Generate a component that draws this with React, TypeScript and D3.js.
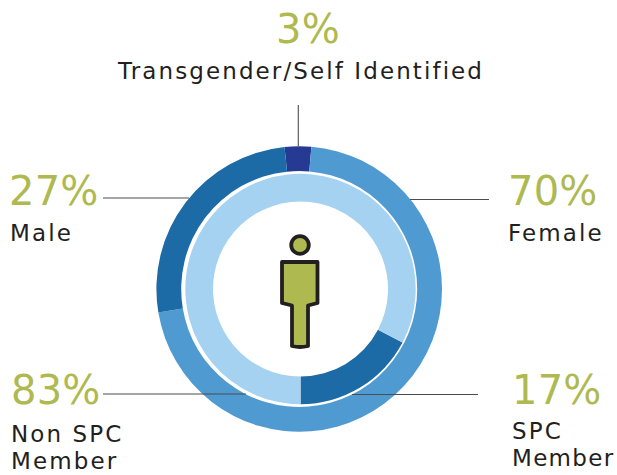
import React from "react";
import * as d3 from "d3";

const outerNames = ["Transgender/Self Identified", "Female", "Male"];
const outerShares = [3, 71, 26];
const innerNames = ["SPC Member", "Non SPC Member"];
const innerShares = [17.3, 82.7];
const outerColors = ["#263a93", "#4f9ad0", "#1c6aa6"];
const innerColors = ["#1c6aa6", "#a6d2f1"];
const percentLabels = ["3%", "27%", "70%", "83%", "17%"];

const GREEN = "#aeb94f";
const INK = "#231f20";
const LINE = "#4d4d4f";
const FONT = "'DejaVu Sans', Verdana, sans-serif";

const rad = (d: number) => (d * Math.PI) / 180;

export default function App() {
  const outerPie = d3.pie<number>().sort(null).startAngle(rad(-5.9)).endAngle(rad(354.1))(outerShares);
  const innerPie = d3.pie<number>().sort(null).startAngle(rad(117.7)).endAngle(rad(477.7))(innerShares);
  const outerArc = d3.arc<d3.PieArcDatum<number>>().innerRadius(118).outerRadius(142.8);
  const innerArc = d3.arc<d3.PieArcDatum<number>>().innerRadius(87.5).outerRadius(115.2);
  const pct = { fontFamily: FONT, fontSize: 40, fill: GREEN, letterSpacing: 0.2 } as const;
  const lab = { fontFamily: FONT, fontSize: 23, fill: INK, letterSpacing: 2.1 } as const;
  const labTight = { ...lab, letterSpacing: 1.3 } as const;

  return (
    <svg width={617} height={475} style={{ position: "absolute", left: 0, top: 0, background: "#fff" }}>
      <g transform="translate(299.2,289)">
        {outerPie.map((d, i) => (
          <path key={outerNames[i]} d={outerArc(d) ?? ""} fill={outerColors[i]} />
        ))}
      </g>
      <g transform="translate(300.5,289)">
        {innerPie.map((d, i) => (
          <path key={innerNames[i]} d={innerArc(d) ?? ""} fill={innerColors[i]} />
        ))}
      </g>

      <g stroke={LINE} strokeWidth={1.1} fill="none">
        <line x1={298.3} x2={298.3} y1={105} y2={146} />
        <line x1={103} x2={189} y1={198} y2={198} />
        <line x1={410} x2={489} y1={199.5} y2={199.5} />
        <line x1={103} x2={246} y1={394} y2={394} />
        <line x1={352} x2={478} y1={394.5} y2={394.5} />
      </g>

      <g fill={GREEN} stroke={INK} strokeWidth={3.8} strokeLinejoin="round">
        <circle cx={300} cy={245} r={8.8} />
        <path d="M282,262 H317.5 V303 L308,305.5 V346 Q300,348 292,346 V305.5 L282,303 Z" />
      </g>

      <text x={276} y={43} style={pct}>{percentLabels[0]}</text>
      <text x={118} y={79} style={lab}>{outerNames[0]}</text>
      <text x={9} y={205} style={pct}>{percentLabels[1]}</text>
      <text x={10} y={241} style={lab}>{outerNames[2]}</text>
      <text x={508} y={205} style={pct}>{percentLabels[2]}</text>
      <text x={508} y={241} style={lab}>{outerNames[1]}</text>
      <text x={11} y={404} style={pct}>{percentLabels[3]}</text>
      <text x={11} y={442} style={lab}>Non SPC</text>
      <text x={11} y={469} style={lab}>Member</text>
      <text x={512} y={404} style={pct}>{percentLabels[4]}</text>
      <text x={512} y={439} style={lab}>SPC</text>
      <text x={512} y={466} style={labTight}>Member</text>
    </svg>
  );
}
